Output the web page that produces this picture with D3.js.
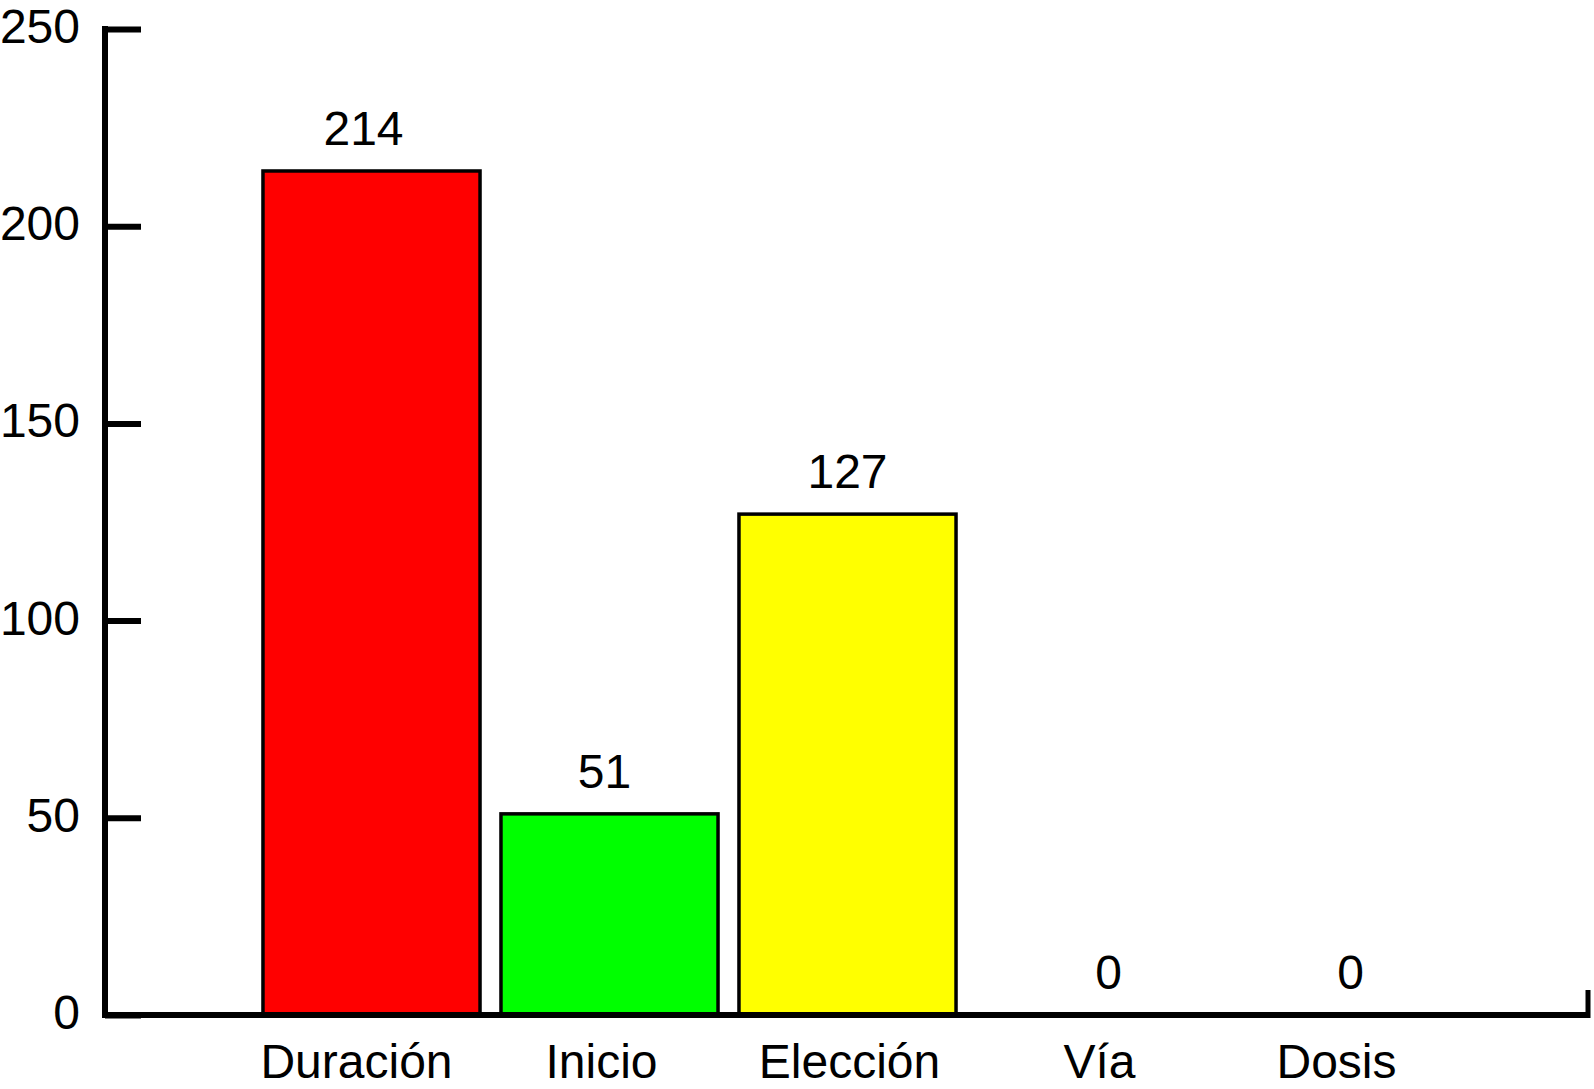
<!DOCTYPE html>
<html>
<head>
<meta charset="utf-8">
<script src="https://cdn.jsdelivr.net/npm/d3@7"></script>
<style>
  body { margin: 0; background: #fff; }
  svg text { font-family: "Liberation Sans", Arial, Helvetica, sans-serif; fill: #000; }
</style>
</head>
<body>
<svg id="chart" width="1594" height="1089"></svg>
<script>
const categories = ["Duración", "Inicio", "Elección", "Vía", "Dosis"];
const values = [214, 51, 127, 0, 0];
const barColors = ["#ff0000", "#00ff00", "#ffff00", "#0000ff", "#ff00ff"];
const yTicks = [0, 50, 100, 150, 200, 250];

// small horizontal nudges of the labels, as placed in the original figure
const valueShift = [-8, -5, 0, 23, 27];
const labelShift = [-15, -8, 2, 14, 13];

const svg = d3.select("#chart");

const axisX = 105;     // y axis position
const axisRight = 1590;
const fontSize = "48px";

const y = d3.scaleLinear()
    .domain([0, 250])
    .range([1015, 29]);

const x = d3.scaleBand()
    .domain(categories)
    .range([252.5, 1442.5])
    .paddingInner(0.088)
    .paddingOuter(0.044);

// bars
svg.selectAll("rect.bar")
    .data(values)
    .enter()
    .append("rect")
    .attr("class", "bar")
    .attr("x", (d, i) => x(categories[i]))
    .attr("y", d => y(d))
    .attr("width", x.bandwidth())
    .attr("height", d => y(0) - y(d))
    .attr("fill", (d, i) => barColors[i])
    .attr("stroke", "#000")
    .attr("stroke-width", 3.5)
    .style("display", d => d > 0 ? null : "none");

// value labels
svg.selectAll("text.value")
    .data(values)
    .enter()
    .append("text")
    .attr("class", "value")
    .attr("x", (d, i) => x(categories[i]) + x.bandwidth() / 2 + valueShift[i])
    .attr("y", d => y(d) - 26)
    .attr("text-anchor", "middle")
    .attr("font-size", fontSize)
    .text(d => d);

// y axis
const yAxis = d3.axisRight(y)
    .tickValues(yTicks)
    .tickSize(36)
    .tickPadding(0)
    .tickFormat("");

const gy = svg.append("g")
    .attr("transform", `translate(${axisX},0)`)
    .call(yAxis);
gy.select(".domain").remove();
gy.selectAll(".tick line").attr("stroke", "#000").attr("stroke-width", 6);

gy.append("line")
    .attr("x1", 0).attr("x2", 0)
    .attr("y1", y(250) - 3).attr("y2", y(0) + 3)
    .attr("stroke", "#000").attr("stroke-width", 6);

// y tick labels
svg.selectAll("text.ytick")
    .data(yTicks)
    .enter()
    .append("text")
    .attr("class", "ytick")
    .attr("x", 80)
    .attr("y", d => y(d) + 14)
    .attr("text-anchor", "end")
    .attr("font-size", fontSize)
    .text(d => d);

// x axis baseline + right end tick
svg.append("line")
    .attr("x1", axisX).attr("x2", axisRight)
    .attr("y1", y(0)).attr("y2", y(0))
    .attr("stroke", "#000").attr("stroke-width", 6);
svg.append("line")
    .attr("x1", axisRight - 2).attr("x2", axisRight - 2)
    .attr("y1", y(0) + 3).attr("y2", y(0) - 25)
    .attr("stroke", "#000").attr("stroke-width", 5);

// category labels
const xAxis = d3.axisBottom(x).tickSize(0).tickPadding(0);
const gx = svg.append("g")
    .attr("transform", `translate(0,${y(0)})`)
    .call(xAxis);
gx.select(".domain").remove();
gx.selectAll(".tick text")
    .attr("font-size", fontSize)
    .attr("font-family", "Liberation Sans, Arial, sans-serif")
    .attr("fill", "#000")
    .attr("dy", 0)
    .attr("y", 63)
    .attr("dx", (d, i) => labelShift[i]);
</script>
</body>
</html>
